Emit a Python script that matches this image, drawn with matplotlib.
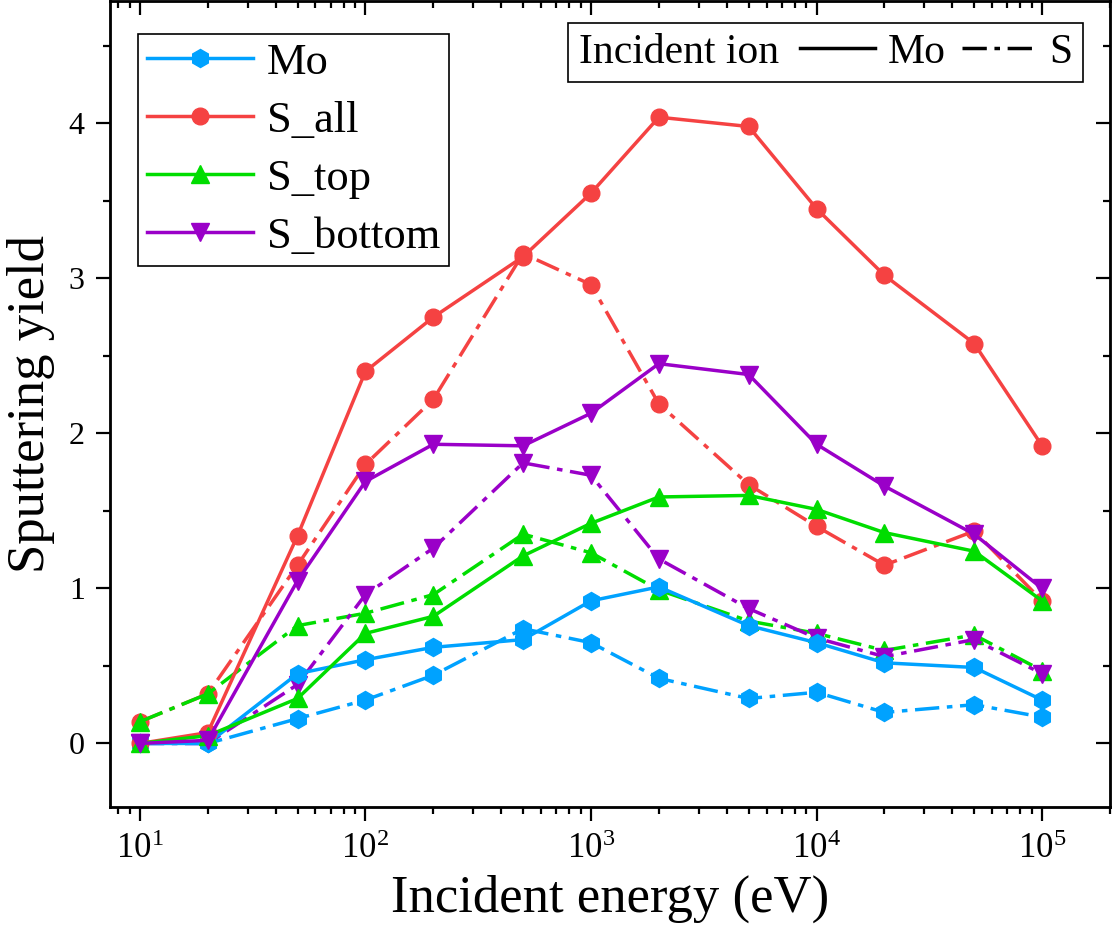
import matplotlib
matplotlib.use('Agg')
import matplotlib.pyplot as plt
from matplotlib.lines import Line2D
from matplotlib.ticker import MultipleLocator, LogLocator, NullFormatter
from matplotlib.offsetbox import HPacker

plt.rcParams['font.family'] = ['Liberation Serif', 'DejaVu Serif']
plt.rcParams['mathtext.fontset'] = 'custom'
plt.rcParams['mathtext.rm'] = 'Liberation Serif'
plt.rcParams['mathtext.it'] = 'Liberation Serif:italic'
plt.rcParams['mathtext.default'] = 'regular'

# incident energy (eV)
energy = [10, 20, 50, 100, 200, 500, 1000, 2000, 5000, 10000, 20000, 50000, 100000]

# Mo incident ion (solid)
mo_ion_mo = [0.0, 0.0, 0.45, 0.54, 0.62, 0.67, 0.92, 1.01, 0.76, 0.65, 0.52, 0.49, 0.28]
mo_ion_s_all = [0.0, 0.07, 1.34, 2.40, 2.75, 3.14, 3.55, 4.04, 3.98, 3.45, 3.02, 2.58, 1.92]
mo_ion_s_top = [0.0, 0.05, 0.29, 0.71, 0.82, 1.21, 1.42, 1.59, 1.60, 1.51, 1.36, 1.24, 0.92]
mo_ion_s_bottom = [0.0, 0.02, 1.05, 1.69, 1.93, 1.92, 2.13, 2.45, 2.38, 1.93, 1.66, 1.35, 1.00]

# S incident ion (dash-dot)
s_ion_mo = [0.0, 0.0, 0.16, 0.28, 0.44, 0.74, 0.65, 0.42, 0.29, 0.33, 0.20, 0.25, 0.17]
s_ion_s_all = [0.14, 0.32, 1.15, 1.80, 2.22, 3.16, 2.96, 2.19, 1.67, 1.40, 1.15, 1.37, 0.92]
s_ion_s_top = [0.14, 0.32, 0.76, 0.84, 0.96, 1.35, 1.23, 0.99, 0.79, 0.71, 0.60, 0.70, 0.47]
s_ion_s_bottom = [0.0, 0.0, 0.38, 0.96, 1.26, 1.81, 1.73, 1.19, 0.87, 0.68, 0.56, 0.67, 0.45]

labels = ['Mo', 'S_all', 'S_top', 'S_bottom']
colors = ['#00a2ff', '#f54242', '#00dd00', '#9a00c8']
markers = ['h', 'o', '^', 'v']
msizes = [13, 12, 13, 13]

dashdot = (0, (7, 2.2, 1.6, 2.2))

fig = plt.figure(figsize=(11.14, 9.4), dpi=100)
ax = fig.add_axes([0.0985, 0.1415, 0.8979, 0.8575])

solid_sets = [mo_ion_mo, mo_ion_s_all, mo_ion_s_top, mo_ion_s_bottom]
dd_sets = [s_ion_mo, s_ion_s_all, s_ion_s_top, s_ion_s_bottom]

handles = []
for i in range(4):
    ax.plot(energy, dd_sets[i], color=colors[i], ls=dashdot, lw=2.5,
            marker=markers[i], ms=msizes[i], dash_capstyle='butt')
for i in range(4):
    h, = ax.plot(energy, solid_sets[i], color=colors[i], ls='-', lw=2.5,
                 marker=markers[i], ms=msizes[i], label=labels[i])
    handles.append(h)

ax.set_xscale('log')
ax.set_xlim(7.35, 2.0e5)
ax.set_ylim(-0.41, 4.79)
ax.yaxis.set_major_locator(MultipleLocator(1))
ax.yaxis.set_minor_locator(MultipleLocator(0.5))
ax.xaxis.set_major_locator(LogLocator(base=10, numticks=10))
ax.xaxis.set_minor_locator(LogLocator(base=10, subs=range(2, 10), numticks=20))
ax.xaxis.set_minor_formatter(NullFormatter())

ax.tick_params(which='major', direction='out', length=10, width=1.6)
ax.tick_params(which='minor', direction='out', length=5, width=1.6)
ax.tick_params(axis='x', labelsize=25, pad=9)
ax.tick_params(axis='y', labelsize=23, pad=8)
for s in ax.spines.values():
    s.set_linewidth(2.0)

# inward ticks on top and right
axt = ax.twiny()
axt.set_xscale('log')
axt.set_xlim(ax.get_xlim())
axt.xaxis.set_major_locator(LogLocator(base=10, numticks=10))
axt.xaxis.set_minor_locator(LogLocator(base=10, subs=range(2, 10), numticks=20))
axt.tick_params(which='major', direction='in', length=10, width=1.6, labeltop=False)
axt.tick_params(which='minor', direction='in', length=5, width=1.6)
axr = ax.twinx()
axr.set_ylim(ax.get_ylim())
axr.yaxis.set_major_locator(MultipleLocator(1))
axr.yaxis.set_minor_locator(MultipleLocator(0.5))
axr.tick_params(which='major', direction='in', length=10, width=1.6, labelright=False)
axr.tick_params(which='minor', direction='in', length=5, width=1.6)

ax.set_xlabel('Incident energy (eV)', fontsize=38, labelpad=6)
ax.set_ylabel('Sputtering yield', fontsize=38, labelpad=10)

leg1 = axr.legend(handles=handles, loc='upper left', bbox_to_anchor=(0.028, 0.959),
                  borderaxespad=0, fontsize=32, handlelength=2.4, handletextpad=0.3,
                  labelspacing=0.4, borderpad=0.2, fancybox=False, edgecolor='black',
                  framealpha=1)
leg1.get_frame().set_linewidth(1.2)
axr.add_artist(leg1)

ion_handles = [Line2D([], [], color='black', lw=2.5, ls='-'),
               Line2D([], [], color='black', lw=2.5, ls=dashdot, dash_capstyle='butt')]
leg2 = axr.legend(handles=ion_handles, labels=['Mo', 'S'], title='Incident ion', ncol=2,
                  loc='upper right', bbox_to_anchor=(0.973, 0.973), borderaxespad=0,
                  fontsize=30, title_fontsize=30, handlelength=1.8, handletextpad=0.3,
                  columnspacing=0.4, borderpad=0.25, fancybox=False, edgecolor='black',
                  framealpha=1)
leg2.get_frame().set_linewidth(1.2)
# put the title to the left of the entries
fs = leg2._fontsize
row = HPacker(pad=leg2.borderpad * fs, sep=0.5 * fs, align='center',
              children=[leg2._legend_title_box, leg2._legend_handle_box])
row.set_figure(fig)
row.axes = axr
leg2._legend_box = row
leg2.set_loc('upper right')

fig.savefig('out.png', dpi=100)
